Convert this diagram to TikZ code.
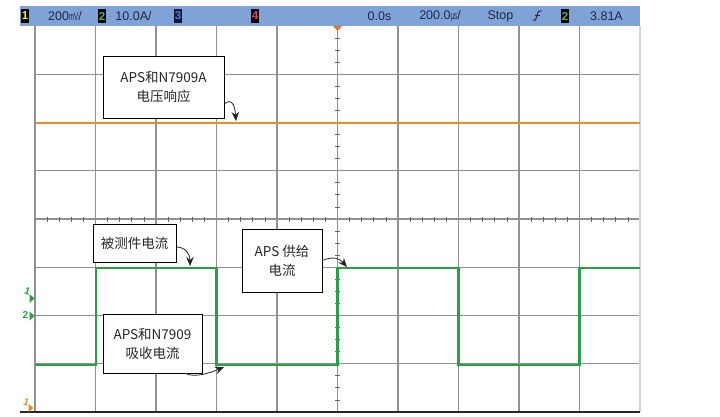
\documentclass[tikz,border=0pt]{standalone}
\usepackage{fontspec}
\newfontfamily\cjkfont{Noto Sans CJK SC}
\newfontfamily\scopefont{Liberation Sans}
\usetikzlibrary{arrows.meta}
\definecolor{barblue}{RGB}{127,163,214}
\definecolor{bartext}{RGB}{28,40,72}
\definecolor{gridgray}{RGB}{145,145,145}
\definecolor{trgreen}{RGB}{40,160,70}
\definecolor{trorange}{RGB}{232,140,40}
\definecolor{chblue}{RGB}{90,120,210}
\definecolor{chnavy}{RGB}{20,25,55}
\definecolor{chpink}{RGB}{230,60,120}
\newcommand\narrowunit[1]{\scalebox{0.5}[0.9]{#1}}
\tikzset{
  gridline/.style={draw=gridgray, line width=1.4pt},
  tickline/.style={draw=gridgray!70!black, line width=0.8pt},
  lbl/.style={draw=black, fill=white, line width=0.8pt, align=center, inner sep=2pt,
    font=\cjkfont\fontsize{13.5}{19}\selectfont, text=black!85},
  arr/.style={draw=black!85, line width=0.8pt, -{Stealth[length=9pt,width=7.5pt]}},
  bartxt/.style={text=bartext, font=\scopefont\fontsize{12.5}{14}\selectfont, inner sep=0pt, anchor=center},
  chbox/.style={fill=black, font=\scopefont\bfseries\fontsize{11.5}{12}\selectfont, inner sep=0pt,
    minimum width=8pt, minimum height=14pt},
  marker/.style={font=\scopefont\bfseries\fontsize{10}{10}\selectfont, inner sep=0pt}
}
\begin{document}
\begin{tikzpicture}[x=1pt,y=-1pt]
\useasboundingbox (0,0) rectangle (720,416);
\fill[white] (0,0) rectangle (720,416);

% top status bar
\fill[barblue] (20,6) rectangle (640,26);
\node[chbox, text=yellow] (c1) at (25,16) {1};
\node[bartxt] (t1) at (65,16) {200\narrowunit{mV}/};
\node[chbox, text=trgreen!80!white] (c2) at (102,16) {2};
\node[bartxt] (t2) at (133.5,16) {10.0A/};
\node[chbox, fill=chnavy, text=chblue] (c3) at (178,16) {3};
\node[chbox, text=chpink] (c4) at (255,16) {4};
\node[bartxt] (t3) at (379.5,16) {0.0s};
\node[bartxt] (t4) at (440,16) {200.0\narrowunit{µs}/};
\node[bartxt] (t5) at (500.5,16) {Stop};
\draw[bartext, line width=1pt] (533,20) -- (535.5,20) -- (538.5,11) -- (541.5,11);
\draw[bartext, line width=0.8pt] (534.5,15.5) -- (539.5,15.5);
\node[chbox, text=trgreen!80!white] (c5) at (565,16) {2};
\node[bartxt] (t6) at (606.5,16) {3.81A};

% grid
\foreach \i in {1,...,9} \draw[gridline] ({35+\i*60.5},26) -- ({35+\i*60.5},412);
\foreach \j in {1,...,7} \draw[gridline, line width=1.2pt] (35,{26+\j*48.25}) -- (640,{26+\j*48.25});
\draw[gridline, line width=1.6pt] (35,26) -- (35,412);
\draw[draw=gridgray!40, line width=1.2pt] (640,26) -- (640,412);
% ticks on centre lines
\foreach \k in {1,...,49} {
  \pgfmathtruncatemacro\r{mod(\k,5)}
  \ifnum\r>0 \draw[tickline] ({35+\k*12.1},216.5) -- ({35+\k*12.1},221.5); \fi
}
\foreach \k in {1,...,31} {
  \pgfmathtruncatemacro\r{mod(\k,4)}
  \ifnum\r>0 \draw[tickline] (335,{26+\k*12.0625}) -- (340,{26+\k*12.0625}); \fi
}
% bottom axis
\draw[black!85, line width=1.5pt] (20,412) -- (640,412);

% trigger marker
\fill[trorange!80!red] (333,26) -- (342,26) -- (337.5,31) -- cycle;

% traces
\draw[trorange, line width=2.8pt] (35,123) -- (640,123);
\draw[trgreen, line width=2.5pt, line join=miter] (35,365) -- (96,365) -- (96,268) -- (216.5,268) -- (216.5,365)
  -- (337.5,365) -- (337.5,268) -- (458.5,268) -- (458.5,365) -- (579.5,365) -- (579.5,268) -- (640,268);

% channel reference markers
\node[marker, text=trgreen, rotate=-20] (m1) at (27.5,291) {1};
\fill[trgreen] (29.5,294) -- (34.5,298.5) -- (29.5,303) -- cycle;
\node[marker, text=trgreen] (m2) at (25.5,315) {2};
\fill[trgreen] (29.5,311.5) -- (34.5,316) -- (29.5,320.5) -- cycle;
\node[marker, text=trorange, rotate=-20] (m3) at (26.5,402) {1};
\fill[trorange] (28.5,404) -- (33.5,408) -- (28.5,412) -- cycle;

% labels
\node[lbl, minimum width=121pt, minimum height=62pt] (v) at (163.5,87) {APS和N7909A\\电压响应};
\node[lbl, minimum width=83pt, minimum height=38pt] (d) at (134.5,243) {被测件电流};
\node[lbl, minimum width=99pt, minimum height=59pt] (s) at (152.5,343.5) {APS和N7909\\吸收电流};
\node[lbl, minimum width=80pt, minimum height=63pt] (p) at (282,260.5) {APS 供给\\电流};

\coordinate (vt) at (236,121);
\coordinate (dt) at (190,266);
\coordinate (st) at (224,367);
\coordinate (pt) at (347,267);

\draw[arr] ([yshift=-17pt]v.east) .. controls +(8,-7) and +(-1,-14) .. (vt);
\draw[arr] ([yshift=-4pt]d.east) .. controls +(9,0) and +(0,-12) .. (dt);
\draw[arr] ([xshift=33pt]s.south) .. controls +(10,5) and +(-12,5) .. (st);
\draw[arr] (p.east) .. controls +(12,-5) and +(-7,-8) .. (pt);
\end{tikzpicture}
\end{document}
